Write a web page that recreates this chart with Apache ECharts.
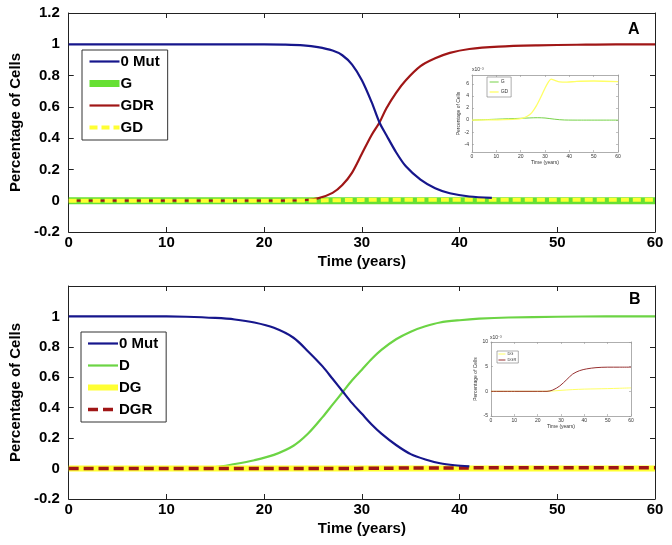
<!DOCTYPE html>
<html><head><meta charset="utf-8">
<script src="https://cdn.jsdelivr.net/npm/echarts@6/dist/echarts.min.js"></script>
<style>html,body{margin:0;padding:0;background:#fff}#c{width:672px;height:545px}</style>
</head><body><div id="c"></div>
<script>
// ---------- Data ----------
// Panel A main
const tMutA = [0, 10, 20, 22, 24, 25.5, 27, 28, 29, 30, 31, 31.8, 32.5, 33.5, 34.5, 36, 37.5, 39, 41, 43.3];
const mutA  = [1, 1, 1, 0.998, 0.993, 0.982, 0.96, 0.93, 0.87, 0.77, 0.63, 0.5, 0.42, 0.31, 0.22, 0.135, 0.08, 0.048, 0.027, 0.018];
const tGdrA = [0, 10, 20, 24, 25.5, 27, 28, 29, 30, 31, 31.8, 32.5, 33.5, 34.5, 36, 37.5, 39, 41, 44, 48, 52, 56, 60];
const gdrA  = [0, 0, 0, 0.003, 0.015, 0.05, 0.1, 0.18, 0.3, 0.42, 0.5, 0.59, 0.69, 0.77, 0.86, 0.91, 0.945, 0.97, 0.985, 0.993, 0.997, 1, 1];
// Panel A inset (x10^-3)
const tGInsA  = [0, 10, 20, 27, 30, 34, 38, 45, 60];
const gInsA   = [0, 0.15, 0.3, 0.4, 0.35, 0.15, 0.02, 0, 0];
const tGdInsA = [0, 10, 18, 20.5, 22.5, 24.5, 26.5, 28.5, 30, 31.5, 32.5, 34, 36, 39, 43, 50, 60];
const gdInsA  = [0, 0.05, 0.15, 0.3, 0.6, 1.2, 2.4, 4.0, 5.3, 6.4, 6.8, 6.6, 6.35, 6.3, 6.45, 6.5, 6.4];
// Panel B main
const tMutB = [0, 5, 10, 12, 15, 17, 19, 21, 23, 24.5, 26, 27, 28, 29, 30, 31, 32, 33.5, 35, 36.5, 38, 39.5, 41];
const mutB  = [1, 1, 1, 0.998, 0.99, 0.98, 0.96, 0.925, 0.86, 0.77, 0.67, 0.59, 0.51, 0.43, 0.36, 0.29, 0.23, 0.155, 0.095, 0.06, 0.035, 0.022, 0.015];
const tDB   = [0, 10, 15, 17, 19, 21, 23, 24.5, 26, 27, 28, 29, 30, 31, 32, 33.5, 35, 36.5, 38, 40, 42, 45, 50, 55, 60];
const dB    = [0, 0, 0.01, 0.03, 0.055, 0.09, 0.15, 0.23, 0.34, 0.42, 0.5, 0.58, 0.65, 0.72, 0.78, 0.85, 0.9, 0.935, 0.96, 0.975, 0.985, 0.993, 0.998, 1, 1];
// Panel B inset (x10^-3)
const tDgrInsB = [0, 10, 20, 24, 26.5, 29.5, 32.5, 35, 38, 41, 45, 50, 55, 60];
const dgrInsB  = [0, 0, 0, 0, 0.27, 1.1, 2.4, 3.5, 4.2, 4.55, 4.8, 4.9, 4.9, 4.9];
const tDgInsB  = [0, 10, 20, 25, 30, 35, 40, 45, 50, 55, 60];
const dgInsB   = [0, 0, 0, 0.03, 0.2, 0.35, 0.45, 0.5, 0.55, 0.62, 0.7];
const INSET_SCALE = 1e-3;
// Tick labels
const xTicks = [0, 10, 20, 30, 40, 50, 60];
const insetATicks = [-4, -2, 0, 2, 4, 6];

// ---------- Chart ----------
const FONT = '"Liberation Sans", Arial, sans-serif';
const BLUE = '#16168c', RED = '#a01616', GREEN = '#66e033', GREEN2 = '#6cd444', YEL = '#ffff33';
function pairs(t, v, s) { s = s || 1; return t.map((x, i) => [x, v[i] * s]); }
const chart = echarts.init(document.getElementById('c'), null, { renderer: 'canvas' });

const lblMain = { color: '#000', fontSize: 15, fontWeight: 'bold', fontFamily: FONT };
function mainX(g, top) {
  return {
    gridIndex: g, type: 'value', min: 0, max: 60, interval: 10, position: top ? 'top' : 'bottom',
    axisLine: { onZero: false, lineStyle: { color: '#222', width: 1 } },
    axisTick: { inside: true, length: 5, lineStyle: { color: '#222' } },
    axisLabel: top ? { show: false } : Object.assign({ margin: 3 }, lblMain),
    splitLine: { show: false },
    name: top ? '' : 'Time (years)', nameLocation: 'middle', nameGap: 22,
    nameTextStyle: lblMain
  };
}
function mainY(g, right, hideMax) {
  return {
    gridIndex: g, type: 'value', min: -0.2, max: 1.2, interval: 0.2, position: right ? 'right' : 'left',
    axisLine: { show: true, onZero: false, lineStyle: { color: '#222', width: 1 } },
    axisTick: { show: true, inside: true, length: 5, lineStyle: { color: '#222' } },
    axisLabel: right ? { show: false } : Object.assign({ margin: 9, showMaxLabel: !hideMax }, lblMain),
    splitLine: { show: false },
    name: right ? '' : 'Percentage of Cells', nameLocation: 'middle', nameGap: 40,
    nameTextStyle: { color: '#000', fontSize: 15, fontFamily: FONT, fontWeight: 'bold' }
  };
}
const lblIns = { color: '#333', fontSize: 5, fontFamily: FONT };
function insX(g, top, gap) {
  return {
    gridIndex: g, type: 'value', min: 0, max: 60, interval: 10, position: top ? 'top' : 'bottom',
    axisLine: { onZero: false, lineStyle: { color: '#999', width: 0.8 } },
    axisTick: { inside: true, length: 2, lineStyle: { color: '#999', width: 0.6 } },
    axisLabel: top ? { show: false } : Object.assign({ margin: 2 }, lblIns),
    splitLine: { show: false },
    name: top ? '' : 'Time (years)', nameLocation: 'middle', nameGap: gap,
    nameTextStyle: lblIns
  };
}
function insY(g, right, range, custom, gap) {
  const a = {
    gridIndex: g, type: 'value', min: range[0], max: range[1], position: right ? 'right' : 'left',
    axisLine: { show: true, onZero: false, lineStyle: { color: '#999', width: 0.8 } },
    axisTick: { show: true, inside: true, length: 2, lineStyle: { color: '#999', width: 0.6 } },
    axisLabel: right ? { show: false } : Object.assign({ margin: 3 }, lblIns),
    splitLine: { show: false },
    name: right ? '' : 'Percentage of Cells', nameLocation: 'middle', nameGap: gap,
    nameTextStyle: lblIns
  };
  if (custom) {
    a.axisTick.customValues = custom;
    if (!right) a.axisLabel.customValues = custom;
  } else {
    a.interval = range[2];
  }
  return a;
}
const smoothOpt = { smooth: 0.3, symbol: 'none', showSymbol: false, silent: true, animation: false };
function line(name, xi, yi, data, style, extra) {
  return Object.assign({ type: 'line', name: name, xAxisIndex: xi, yAxisIndex: yi, data: data, lineStyle: style, itemStyle: { color: style.color } }, smoothOpt, extra || {});
}
const legendFmt = n => n.split('|')[1];
const legBase = { orient: 'vertical', formatter: legendFmt, selectedMode: false, backgroundColor: '#fff',
  lineStyle: { width: 'inherit' }, itemStyle: { opacity: 0 } };

const option = {
  animation: false,
  backgroundColor: '#fff',
  grid: [
    { left: 57, top: 13, width: 598, height: 219 },
    { left: 472, top: 75, width: 146, height: 77, show: true, backgroundColor: '#fff', borderWidth: 0 },
    { left: 57, top: 286, width: 598, height: 213 },
    { left: 491, top: 342, width: 140, height: 74, show: true, backgroundColor: '#fff', borderWidth: 0 }
  ],
  xAxis: [
    mainX(0, false), mainX(0, true),
    insX(1, false, 8), insX(1, true),
    mainX(2, false), mainX(2, true),
    insX(3, false, 7), insX(3, true)
  ],
  yAxis: [
    mainY(0, false, false), mainY(0, true),
    insY(1, false, [-5.3, 7.5], insetATicks, 8), insY(1, true, [-5.3, 7.5], insetATicks),
    mainY(2, false, true), mainY(2, true),
    insY(3, false, [-5, 10, 5], null, 7), insY(3, true, [-5, 10, 5], null)
  ],
  title: [
    { text: 'A', left: 623, top: 17, textStyle: { fontSize: 16, fontWeight: 'bold', fontFamily: FONT, color: '#000' } },
    { text: 'B', left: 624, top: 287, textStyle: { fontSize: 16, fontWeight: 'bold', fontFamily: FONT, color: '#000' } }
  ],
  graphic: [
    { type: 'text', left: 472, top: 67, style: { text: 'x10⁻³', fontSize: 5, fill: '#333', fontFamily: FONT } },
    { type: 'text', left: 490, top: 335, style: { text: 'x10⁻³', fontSize: 5, fill: '#333', fontFamily: FONT } }
  ],
  legend: [
    Object.assign({}, legBase, { left: 82, top: 50, data: ['A|0 Mut', 'A|G', 'A|GDR', 'A|GD'],
      itemWidth: 30, itemHeight: 14, itemGap: 7, padding: [4, 8, 5, 4], borderColor: '#333', borderWidth: 1,
      textStyle: { fontSize: 15, fontWeight: 'bold', fontFamily: FONT, color: '#000', lineHeight: 14, padding: [0, 0, 0, -4] } }),
    Object.assign({}, legBase, { left: 81, top: 332, data: ['B|0 Mut', 'B|D', 'B|DG', 'B|DGR'],
      itemWidth: 30, itemHeight: 14, itemGap: 7, padding: [4, 8, 5, 4], borderColor: '#333', borderWidth: 1,
      textStyle: { fontSize: 15, fontWeight: 'bold', fontFamily: FONT, color: '#000', lineHeight: 14, padding: [0, 0, 0, -4] } }),
    Object.assign({}, legBase, { left: 487, top: 77, data: ['iA|G', 'iA|GD'],
      itemWidth: 9, itemHeight: 6, itemGap: 4, padding: [2, 3, 2, 2], borderColor: '#777', borderWidth: 0.6,
      textStyle: { fontSize: 5, fontFamily: FONT, color: '#333', lineHeight: 6, padding: [0, 0, 0, -3] } }),
    Object.assign({}, legBase, { left: 497, top: 351, data: ['iB|DG', 'iB|DGR'],
      itemWidth: 7, itemHeight: 4, itemGap: 2, padding: [1, 2, 1, 1], borderColor: '#777', borderWidth: 0.6,
      textStyle: { fontSize: 4, fontFamily: FONT, color: '#333', lineHeight: 4, padding: [0, 0, 0, -3] } })
  ],
  series: [
    // Panel A main
    line('A|G', 0, 0, pairs(tGInsA, gInsA, INSET_SCALE), { color: GREEN, width: 7 }),
    line('A|GDR', 0, 0, pairs(tGdrA, gdrA), { color: RED, width: 2.2 }),
    line('A|GD', 0, 0, pairs(tGdInsA, gdInsA, INSET_SCALE), { color: YEL, width: 4, type: [8, 4] }),
    line('A|0 Mut', 0, 0, pairs(tMutA, mutA), { color: BLUE, width: 2.2 }),
    // Panel A inset
    line('iA|G', 2, 2, pairs(tGInsA, gInsA), { color: '#66cc33', width: 0.9 }),
    line('iA|GD', 2, 2, pairs(tGdInsA, gdInsA), { color: '#ffff66', width: 1.3 }),
    // Panel B main
    line('B|D', 4, 4, pairs(tDB, dB), { color: GREEN2, width: 2.2 }),
    line('B|DG', 4, 4, pairs(tDgInsB, dgInsB, INSET_SCALE), { color: YEL, width: 6 }),
    line('B|DGR', 4, 4, pairs(tDgrInsB, dgrInsB, INSET_SCALE), { color: RED, width: 3.5, type: [10, 5] }),
    line('B|0 Mut', 4, 4, pairs(tMutB, mutB), { color: BLUE, width: 2.2 }),
    // Panel B inset
    line('iB|DG', 6, 6, pairs(tDgInsB, dgInsB), { color: '#ffff55', width: 0.9 }),
    line('iB|DGR', 6, 6, pairs(tDgrInsB, dgrInsB), { color: '#8b1a1a', width: 0.9 })
  ]
};
chart.setOption(option);
</script>
</body></html>
